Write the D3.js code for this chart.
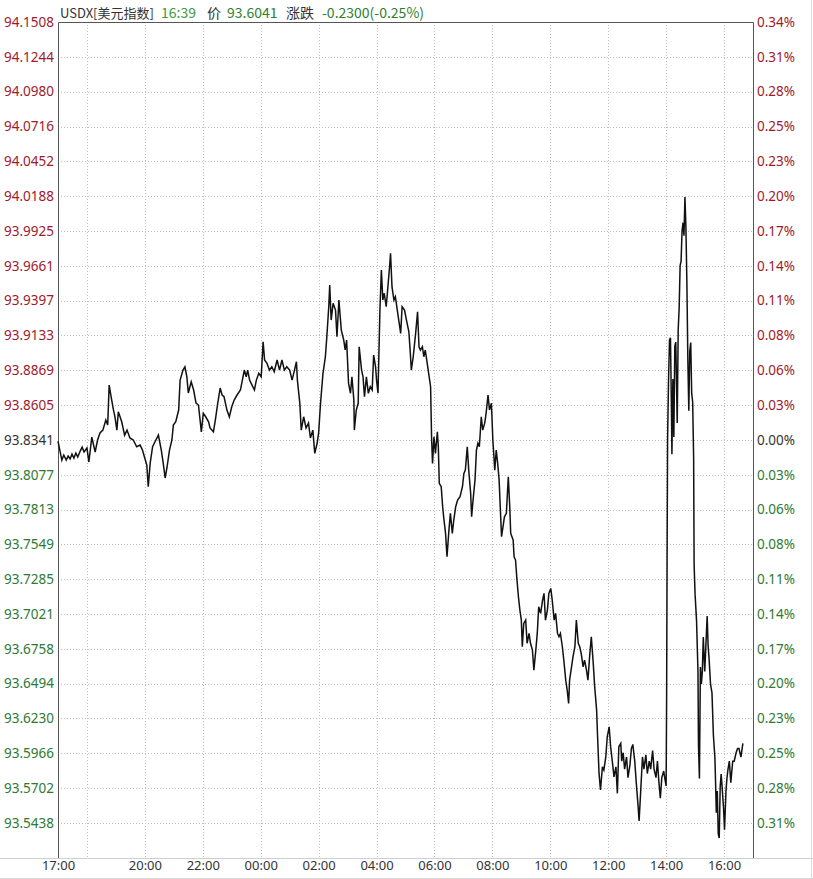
<!DOCTYPE html>
<html><head><meta charset="utf-8">
<script src="https://cdn.jsdelivr.net/npm/d3@7/dist/d3.min.js"></script>
<style>
html,body{margin:0;padding:0;background:#fff;}
svg{display:block;font-family:"Noto Sans","Noto Sans CJK SC",sans-serif;}
</style></head>
<body><svg id="c" width="813" height="879"></svg>
<script>
// minutes since 17:00 (previous day)
const minutes = [0,8,12,17,21,25,29,33,37,41,46,50,54,60,64,70,77,82,87,93,99,103,106,110,115,118,122,125,132,138,143,149,156,163,170,175,179,184,187,191,196,201,208,214,218,222,226,231,236,239,244,250,253,259,263,267,270,276,281,286,291,297,301,306,312,315,322,326,331,336,340,344,350,355,360,365,371,378,382,386,390,393,397,402,407,411,416,421,425,428,433,438,443,448,454,459,464,469,474,480,485,490,494,496,501,504,509,514,519,523,528,532,537,540,544,549,554,557,561,563,566,570,575,578,582,587,592,595,598,602,606,609,613,614,618,622,624,629,632,635,639,643,647,651,654,658,660,663,667,670,673,676,680,683,687,689,692,696,699,703,706,710,713,718,722,727,730,732,736,741,745,748,751,755,758,761,765,768,772,774,776,779,782,786,788,790,794,797,799,803,806,810,813,817,820,824,828,833,838,841,844,848,851,855,857,860,864,867,870,873,877,880,884,887,891,894,898,901,905,908,911,914,916,919,922,925,929,933,936,938,943,945,948,951,954,957,960,962,965,969,972,976,979,983,986,990,993,996,1000,1004,1007,1010,1014,1017,1021,1024,1028,1031,1035,1038,1041,1045,1048,1052,1055,1058,1060,1064,1067,1071,1074,1078,1081,1084,1088,1091,1095,1098,1102,1105,1109,1112,1116,1118,1121,1124,1128,1131,1135,1138,1142,1145,1149,1152,1156,1159,1162,1166,1168,1171,1174,1178,1181,1185,1188,1191,1195,1198,1202,1204,1207,1211,1214,1218,1221,1225,1228,1232,1235,1239,1242,1245,1248,1251,1255,1257,1260,1261,1262,1263,1265,1267,1269,1271,1272,1274,1276,1278,1280,1283,1285,1287,1289,1291,1293,1295,1297,1299,1301,1303,1305,1307,1309,1311,1313,1315,1317,1318,1320,1323,1326,1327,1329,1331,1333,1335,1337,1340,1342,1345,1347,1349,1352,1355,1358,1361,1362,1364,1366,1368,1370,1372,1374,1376,1379,1381,1384,1386,1388,1391,1394,1398,1401,1405,1408,1411,1415,1419];
const prices = [93.8330,93.8188,93.8226,93.8188,93.8218,93.8196,93.8233,93.8203,93.8241,93.8211,93.8256,93.8286,93.8249,93.8279,93.8173,93.8362,93.8249,93.8340,93.8393,93.8415,93.8491,93.8453,93.8756,93.8668,93.8567,93.8516,93.8415,93.8554,93.8478,93.8377,93.8415,93.8355,93.8340,93.8289,93.8302,93.8264,93.8213,93.8150,93.7986,93.8165,93.8289,93.8327,93.8377,93.8264,93.8165,93.8052,93.8137,93.8264,93.8340,93.8453,93.8478,93.8567,93.8794,93.8870,93.8895,93.8819,93.8696,93.8781,93.8719,93.8620,93.8605,93.8402,93.8542,93.8516,93.8478,93.8431,93.8402,93.8491,93.8620,93.8734,93.8681,93.8668,93.8567,93.8516,93.8592,93.8643,93.8681,93.8719,93.8794,93.8870,93.8819,93.8870,93.8794,93.8756,93.8719,93.8794,93.8845,93.8819,93.9085,93.8946,93.8921,93.8870,93.8895,93.8857,93.8946,93.8870,93.8946,93.8870,93.8895,93.8870,93.8794,93.8870,93.8933,93.8794,93.8620,93.8415,93.8516,93.8431,93.8468,93.8355,93.8415,93.8239,93.8317,93.8393,93.8620,93.8845,93.8971,93.9123,93.9350,93.9514,93.9249,93.9376,93.9325,93.9123,93.9401,93.9173,93.9098,93.9022,93.9098,93.8769,93.8694,93.8819,93.8643,93.8415,93.8567,93.8618,93.9047,93.8870,93.8819,93.8668,93.8819,93.8694,93.8744,93.8719,93.8984,93.8895,93.8794,93.8694,93.9325,93.9628,93.9401,93.9452,93.9350,93.9477,93.9653,93.9755,93.9502,93.9401,93.9426,93.9325,93.9249,93.9148,93.9350,93.9325,93.9249,93.9160,93.8997,93.8870,93.8971,93.9148,93.9312,93.9047,93.9022,93.9047,93.8971,93.9022,93.8921,93.8845,93.8744,93.8365,93.8163,93.8365,93.8239,93.8402,93.8289,93.8011,93.7986,93.7834,93.7758,93.7632,93.7455,93.7657,93.7784,93.7632,93.7733,93.7834,93.7885,93.7910,93.7986,93.8087,93.8112,93.8289,93.8112,93.7936,93.7758,93.7885,93.8036,93.8264,93.8315,93.8289,93.8516,93.8415,93.8466,93.8542,93.8681,93.8567,93.8618,93.8340,93.8112,93.8264,93.8163,93.8036,93.7860,93.7607,93.7682,93.7758,93.7784,93.8061,93.7834,93.7632,93.7582,93.7455,93.7430,93.7278,93.7152,93.7051,93.6975,93.6773,93.6950,93.6975,93.6799,93.6874,93.6799,93.6748,93.6596,93.6748,93.6874,93.7076,93.7026,93.7127,93.7178,93.6975,93.7051,93.7178,93.7215,93.7127,93.6975,93.7026,93.6874,93.6849,93.6874,93.6773,93.6672,93.6520,93.6445,93.6344,93.6520,93.6621,93.6697,93.6773,93.6975,93.6799,93.6773,93.6723,93.6621,93.6672,93.6596,93.6520,93.6723,93.6849,93.6647,93.6470,93.6293,93.6091,93.5813,93.5687,93.5863,93.5838,93.5939,93.6091,93.6166,93.6015,93.5889,93.5787,93.5863,93.5662,93.6015,93.6041,93.5906,93.5970,93.5846,93.5938,93.5781,93.5876,93.6001,93.6033,93.5906,93.5749,93.5561,93.5452,93.5656,93.5938,93.5846,93.5954,93.5812,93.5906,93.5846,93.5986,93.5846,93.5781,93.5906,93.5749,93.5626,93.5781,93.5831,93.5781,93.5718,93.6369,93.7430,93.8340,93.8794,93.9098,93.9115,93.8582,93.8233,93.8802,93.8362,93.9052,93.9082,93.8468,93.9176,93.9340,93.9662,93.9696,93.9924,93.9987,93.9889,94.0181,93.9954,93.9533,93.8950,93.8561,93.9014,93.9079,93.8691,93.8628,93.8205,93.7395,93.7168,93.6975,93.6585,93.6035,93.5775,93.6619,93.6490,93.6585,93.6846,93.6585,93.6748,93.7005,93.6780,93.6683,93.6490,93.6423,93.6099,93.5937,93.5808,93.5516,93.5679,93.5355,93.5323,93.5711,93.5808,93.5711,93.5550,93.5386,93.5679,93.5775,93.5840,93.5906,93.5743,93.5906,93.5906,93.5970,93.6002,93.6002,93.5937,93.6041];

const priceLabels = ["94.1508","94.1244","94.0980","94.0716","94.0452","94.0188","93.9925","93.9661","93.9397","93.9133","93.8869","93.8605","93.8341","93.8077","93.7813","93.7549","93.7285","93.7021","93.6758","93.6494","93.6230","93.5966","93.5702","93.5438"];
const pctLabels = ["0.34%","0.31%","0.28%","0.25%","0.23%","0.20%","0.17%","0.14%","0.11%","0.08%","0.06%","0.03%","0.00%","0.03%","0.06%","0.08%","0.11%","0.14%","0.17%","0.20%","0.23%","0.25%","0.28%","0.31%"];
const timeLabels = ["17:00","20:00","22:00","00:00","02:00","04:00","06:00","08:00","10:00","12:00","14:00","16:00"];
const timeTickMinutes = [0,180,300,420,540,660,780,900,1020,1140,1260,1380];
const gridMinutes = [60,180,300,420,540,660,780,900,1020,1140,1260,1380];
const refClose = 93.8341;
const headerTexts = ["USDX[美元指数]","16:39","价","93.6041","涨跌","-0.2300(-0.25%)"];
const headerColors = ["#333","#3d9a3d","#333","#2f7f2f","#333","#2f7f2f"];
const headerX = [60,161,207,227,286,322];

const RED = "#9e1a2c", GREEN = "#2e7a34", GREY = "#333";
const L = 58, R = 753, T = 22, B = 858;
const svg = d3.select("#c");
const x = d3.scaleLinear().domain([0, 1440]).range([L, R]);
const step = 0.0264;
const y = d3.scaleLinear().domain([94.1508 - 24*step, 94.1508]).range([B, T]);

// outer light lines
svg.append("line").attr("x1",0).attr("x2",813).attr("y1",B+0.5).attr("y2",B+0.5).attr("stroke","#cfcfcf");
svg.append("line").attr("x1",0).attr("x2",813).attr("y1",878.5).attr("y2",878.5).attr("stroke","#d8d8d8");
svg.append("line").attr("x1",811.5).attr("x2",811.5).attr("y1",0).attr("y2",879).attr("stroke","#dcdcdc");

// grid
const g = svg.append("g");
g.selectAll("line.h").data(priceLabels.slice(1)).enter().append("line")
  .attr("x1",L).attr("x2",R).attr("y1",d=>Math.round(y(+d))+0.5).attr("y2",d=>Math.round(y(+d))+0.5)
  .attr("stroke","#bdbdbd").attr("stroke-dasharray","1,2");
g.selectAll("line.v").data(gridMinutes).enter().append("line")
  .attr("x1",d=>Math.round(x(d))+0.5).attr("x2",d=>Math.round(x(d))+0.5).attr("y1",T).attr("y2",B)
  .attr("stroke","#bdbdbd").attr("stroke-dasharray","1,2");

// frame
svg.append("path").attr("d",`M${L+0.5},${B}V${T+0.5}H${R+0.5}V${B}`).attr("fill","none").attr("stroke","#555");

// axes
function colorFor(i){ const v=+priceLabels[i]; return Math.abs(v-refClose)<1e-6?GREY:(v>refClose?RED:GREEN); }
const ay = d3.axisLeft(y).tickValues(priceLabels.map(Number)).tickFormat((d,i)=>priceLabels[i]).tickSize(0).tickPadding(4);
const gl = svg.append("g").attr("transform",`translate(${L},0)`).call(ay);
gl.select(".domain").remove();
gl.selectAll("text").attr("font-size",13.5).attr("font-family","Noto Sans, sans-serif").attr("fill",(d,i)=>colorFor(i));

const ar = d3.axisRight(y).tickValues(priceLabels.map(Number)).tickFormat((d,i)=>pctLabels[i]).tickSize(0).tickPadding(4);
const gr = svg.append("g").attr("transform",`translate(${R},0)`).call(ar);
gr.select(".domain").remove();
gr.selectAll("text").attr("font-size",13.5).attr("font-family","Noto Sans, sans-serif").attr("fill",(d,i)=>colorFor(i));

const ax = d3.axisBottom(x).tickValues(timeTickMinutes).tickFormat((d,i)=>timeLabels[i]).tickSize(0).tickPadding(3);
const gb = svg.append("g").attr("transform",`translate(0,${B})`).call(ax);
gb.select(".domain").remove();
gb.selectAll("text").attr("font-size",13).attr("font-family","Noto Sans, sans-serif").attr("fill","#333");

// price line
const data = minutes.map((m,i)=>({m, p:prices[i]}));
svg.append("path").datum(data)
  .attr("d", d3.line().x(d=>x(d.m)).y(d=>y(d.p)))
  .attr("fill","none").attr("stroke","#111").attr("stroke-width",1.5).attr("stroke-linejoin","miter");

// header
svg.append("g").selectAll("text").data(headerTexts).enter().append("text")
  .attr("x",(d,i)=>headerX[i]).attr("y",18).attr("font-size",(d,i)=>i===0?13:14)
  .attr("font-family","Noto Sans CJK SC, Noto Sans, sans-serif")
  .attr("fill",(d,i)=>headerColors[i]).text(d=>d);
</script></body></html>
